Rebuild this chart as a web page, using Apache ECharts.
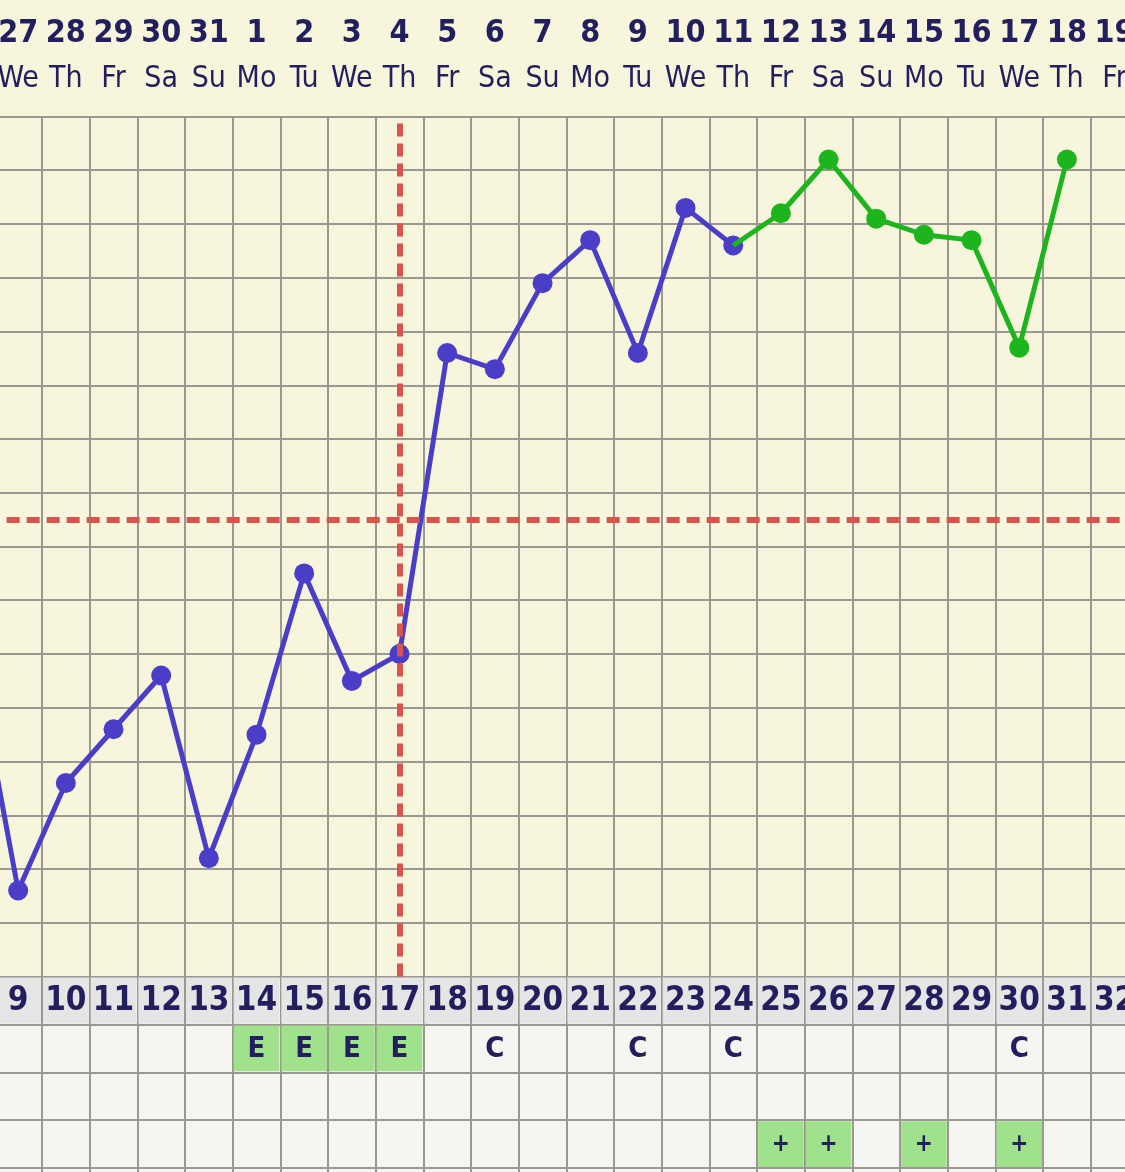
<!DOCTYPE html>
<html>
<head>
<meta charset="utf-8">
<script src="https://cdn.jsdelivr.net/npm/echarts@6/dist/echarts.min.js"></script>
<style>
html,body{margin:0;padding:0;background:#f7f5dc;}
#chart{width:1125px;height:1172px;}
</style>
</head>
<body>
<div id="chart"></div>
<script>
// ---- data ----
const cycleDays = ['8','9','10','11','12','13','14','15','16','17','18','19','20','21','22','23','24','25','26','27','28','29','30','31','32'];
const dateLabels = ['26','27','28','29','30','31','1','2','3','4','5','6','7','8','9','10','11','12','13','14','15','16','17','18','19'];
const weekdayLabels = ['Tu','We','Th','Fr','Sa','Su','Mo','Tu','We','Th','Fr','Sa','Su','Mo','Tu','We','Th','Fr','Sa','Su','Mo','Tu','We','Th','Fr'];
// temperatures (°F), cycle days 8..24
const preTemps = [97.64, 97.16, 97.36, 97.46, 97.56, 97.22, 97.45, 97.75, 97.55, 97.60, 98.16, 98.13, 98.29, 98.37, 98.16, 98.43, 98.36];
// temperatures (°F), cycle days 25..31
const postTemps = [98.42, 98.52, 98.41, 98.38, 98.37, 98.17, 98.52];
const fluidRow = ['','','','','','','E','E','E','E','','C','','','C','','C','','','','','','C','',''];
const opkRow = ['','','','','','','','','','','','','','','','','','+','+','','+','','+','',''];
const coverline = 97.85;
const ovulationDay = '17';
const tempMin = 97.0, tempMax = 98.6, tempStep = 0.1;
const tableRows = ['day', 'fluid', 'blank', 'opk', 'extra'];

// ---- styling ----
const NAVY = '#231f5e';
const GRIDC = '#9b9891';
const BLUE = '#4a3ec9';
const GREEN = '#1db51d';
const RED = '#d9534f';
const CELL_GREEN = '#a0e28b';
const FONT = "'DejaVu Sans Condensed', 'DejaVu Sans', sans-serif";
const colW = 47.67;
const gridLeft = 42 - 2 * colW;
const gridWidth = cycleDays.length * colW;
const rowH = 47.9;

const blueData = cycleDays.map((d, i) => i < preTemps.length ? preTemps[i] : null);
const greenData = cycleDays.map((d, i) => {
  const j = i - preTemps.length;
  if (j === -1) return { value: preTemps[i], symbol: 'none' };
  if (j >= 0 && j < postTemps.length) return postTemps[j];
  return null;
});

const cells = [];
cycleDays.forEach((d, i) => {
  cells.push({ x: i, row: 0, text: d, kind: 'day' });
  if (fluidRow[i]) cells.push({ x: i, row: 1, text: fluidRow[i], kind: fluidRow[i] === 'E' ? 'hi' : 'plain' });
  if (opkRow[i]) cells.push({ x: i, row: 3, text: opkRow[i], kind: 'hi' });
});

const chart = echarts.init(document.getElementById('chart'), null, { renderer: 'canvas' });

function cellCoord(api, x, y) {
  if (typeof api.coord === 'function') return api.coord([x, y]);
  return chart.convertToPixel({ xAxisIndex: 3, yAxisIndex: 1 }, [x, y]);
}
function cellSize(api) {
  if (typeof api.size === 'function') return api.size([1, 1]);
  return [colW, rowH];
}

chart.setOption({
  animation: false,
  backgroundColor: '#f7f5dc',
  grid: [
    { left: gridLeft, width: gridWidth, top: 116.5, height: 860, outerBoundsMode: 'none', containLabel: false },
    { left: gridLeft, width: gridWidth, top: 976.5, height: rowH * tableRows.length, outerBoundsMode: 'none', containLabel: false,
      show: true, backgroundColor: '#f5f5f1', borderWidth: 0 }
  ],
  xAxis: [
    { gridIndex: 0, type: 'category', data: cycleDays, position: 'bottom',
      axisLabel: { show: false }, axisTick: { show: false }, axisLine: { show: false },
      splitLine: { show: true, interval: 0, lineStyle: { color: GRIDC, width: 2 } } },
    { gridIndex: 0, type: 'category', data: dateLabels, position: 'top',
      axisLabel: { interval: 0, margin: 83, verticalAlign: 'middle', color: NAVY, fontSize: 32, fontWeight: 'bold', fontFamily: FONT },
      axisTick: { show: false }, axisLine: { show: false }, splitLine: { show: false } },
    { gridIndex: 0, type: 'category', data: weekdayLabels, position: 'top',
      axisLabel: { interval: 0, margin: 37, verticalAlign: 'middle', color: NAVY, fontSize: 30, fontFamily: FONT },
      axisTick: { show: false }, axisLine: { show: false }, splitLine: { show: false } },
    { gridIndex: 1, type: 'category', data: cycleDays,
      axisLabel: { show: false }, axisTick: { show: false }, axisLine: { show: false },
      splitLine: { show: true, interval: 0, lineStyle: { color: GRIDC, width: 2 } } }
  ],
  yAxis: [
    { gridIndex: 0, type: 'value', min: tempMin, max: tempMax, interval: tempStep,
      axisLabel: { show: false }, axisTick: { show: false }, axisLine: { show: false },
      splitLine: { show: true, lineStyle: { color: GRIDC, width: 2 } } },
    { gridIndex: 1, type: 'category', inverse: true, data: tableRows,
      axisLabel: { show: false }, axisTick: { show: false }, axisLine: { show: false },
      splitLine: { show: true, interval: 0, lineStyle: { color: GRIDC, width: 2 } } }
  ],
  series: [
    { type: 'line', xAxisIndex: 0, yAxisIndex: 0, data: [], z: 1, silent: true,
      markLine: { silent: true, symbol: ['none', 'none'], label: { show: false },
        lineStyle: { color: RED, width: 6, type: [13, 7], cap: 'butt' },
        data: [{ xAxis: ovulationDay }, { yAxis: coverline }] } },
    { type: 'line', xAxisIndex: 0, yAxisIndex: 0, data: blueData, z: 3,
      symbol: 'circle', symbolSize: 20, lineStyle: { color: BLUE, width: 5 },
      itemStyle: { color: BLUE } },
    { type: 'line', xAxisIndex: 0, yAxisIndex: 0, data: greenData, z: 4,
      symbol: 'circle', symbolSize: 20, lineStyle: { color: GREEN, width: 5 },
      itemStyle: { color: GREEN } },
    { type: 'custom', coordinateSystem: 'cartesian2d', xAxisIndex: 3, yAxisIndex: 1,
      data: cells.map(c => [c.x, c.row]),
      renderItem: function (params, api) {
        const c = cells[params.dataIndex];
        const p = cellCoord(api, api.value(0), api.value(1));
        const s = cellSize(api);
        const fill = c.kind === 'day' ? '#e5e5e5' : (c.kind === 'hi' ? CELL_GREEN : null);
        const children = [];
        if (fill) children.push({ type: 'rect', shape: { x: p[0] - s[0] / 2 + 1, y: p[1] - s[1] / 2 + 1, width: s[0] - 2, height: s[1] - 2 }, style: { fill: fill } });
        const size = c.kind === 'day' ? 33 : (c.text === '+' ? 24 : 29);
        children.push({ type: 'text', x: p[0], y: p[1] + 1, style: { text: c.text, align: 'center', verticalAlign: 'middle', fill: NAVY, font: 'bold ' + size + 'px ' + FONT } });
        return { type: 'group', children: children };
      } }
  ]
});
</script>
</body>
</html>
